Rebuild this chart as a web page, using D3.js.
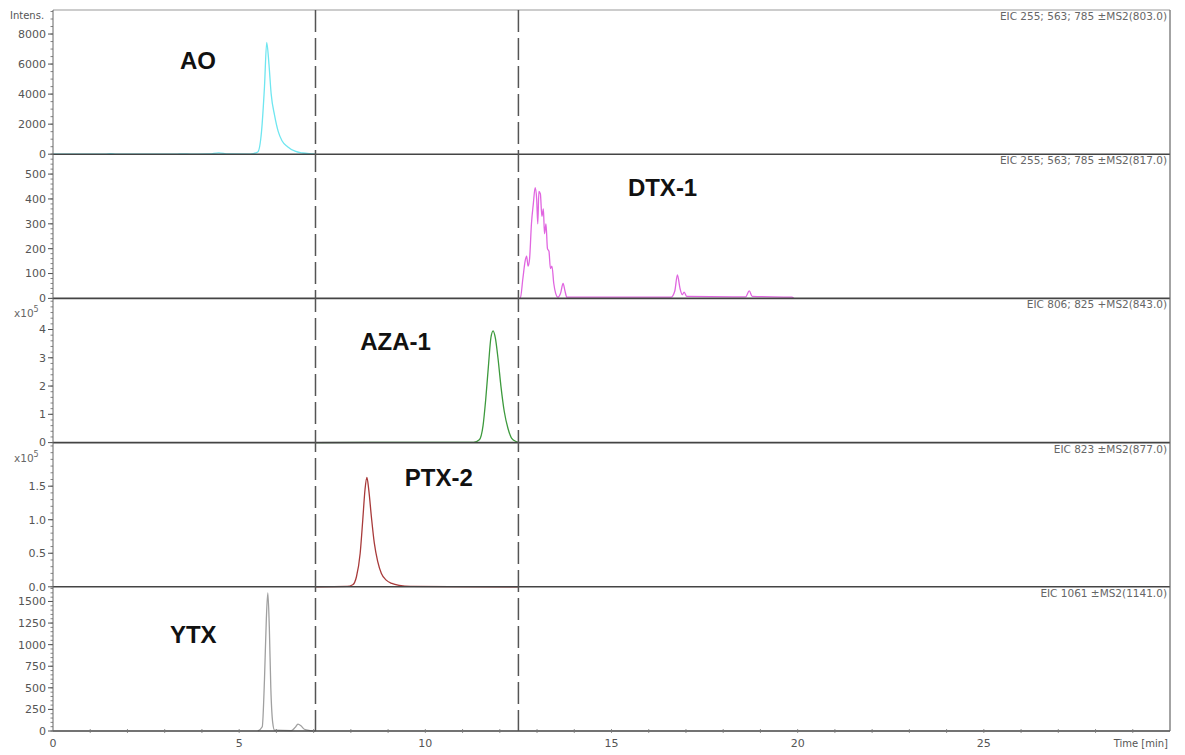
<!DOCTYPE html>
<html>
<head>
<meta charset="utf-8">
<script src="https://cdn.jsdelivr.net/npm/d3@7"></script>
<style>
  html, body { margin: 0; padding: 0; background: #fff; }
  svg { display: block; font-family: "DejaVu Sans", sans-serif; }
  .name { font-family: "Liberation Sans", Arial, sans-serif; }
</style>
</head>
<body>
<svg id="chart" width="1185" height="755"></svg>
<script>
// Extracted ion chromatograms, retention time (min) vs intensity
const aoTrace = [[0,0],[1.4,0],[1.55,30],[1.7,0],[3.3,0],[3.5,25],[3.7,10],[4.2,20],[4.45,90],[4.7,20],[5.3,10],[5.5,150],[5.6,1500],[5.68,4500],[5.74,7450],[5.8,6000],[5.86,4000],[5.95,2600],[6.05,1500],[6.15,900],[6.3,500],[6.5,200],[6.7,80],[6.95,20],[7.05,0]];
const dtxTrace = [[12.5,0],[12.55,0],[12.62,80],[12.68,150],[12.72,170],[12.76,130],[12.8,160],[12.85,300],[12.9,380],[12.95,445],[12.99,400],[13.02,300],[13.05,430],[13.09,420],[13.13,330],[13.17,360],[13.2,260],[13.24,300],[13.28,200],[13.32,190],[13.36,120],[13.4,130],[13.45,60],[13.5,20],[13.56,5],[13.63,20],[13.7,60],[13.75,30],[13.8,5],[14.5,5],[16.6,5],[16.7,30],[16.77,95],[16.84,40],[16.9,15],[16.95,25],[17.02,8],[18.6,6],[18.7,30],[18.78,8],[19.85,5],[19.9,0]];
const azaTrace = [[7.05,0],[8.5,0.01],[11.3,0.01],[11.45,0.1],[11.55,0.6],[11.62,1.5],[11.7,2.8],[11.76,3.7],[11.82,3.95],[11.88,3.7],[11.95,3.0],[12.03,2.0],[12.12,1.1],[12.22,0.5],[12.32,0.15],[12.45,0.03],[12.5,0]];
const ptxTrace = [[7.05,0],[7.9,0.005],[8.05,0.03],[8.15,0.15],[8.25,0.5],[8.32,1.0],[8.38,1.45],[8.43,1.63],[8.48,1.45],[8.55,1.05],[8.63,0.65],[8.72,0.38],[8.82,0.2],[8.95,0.1],[9.1,0.05],[9.3,0.02],[9.6,0.005],[12.5,0]];
const ytxTrace = [[5.5,0],[5.62,50],[5.68,600],[5.73,1300],[5.77,1600],[5.81,1200],[5.85,500],[5.9,100],[5.95,10],[6.4,5],[6.5,40],[6.58,80],[6.66,60],[6.75,20],[6.9,5],[7.05,0]];

const compoundNames = ["AO", "DTX-1", "AZA-1", "PTX-2", "YTX"];
const traceColors = ["#6fe6f0", "#e066e0", "#3d9a3d", "#a83a3a", "#a0a0a0"];
const eicLabels = ["EIC 255; 563; 785 \u00B1MS2(803.0)", "EIC 255; 563; 785 \u00B1MS2(817.0)", "EIC 806; 825 +MS2(843.0)", "EIC 823 \u00B1MS2(877.0)", "EIC 1061 \u00B1MS2(1141.0)"];
const yMax = [9600, 580, 5.1, 2.15, 1670];
const yMajorTicks = [[0,2000,4000,6000,8000],[0,100,200,300,400,500],[0,1,2,3,4],[0,0.5,1.0,1.5],[0,250,500,750,1000,1250,1500]];
const yMinorStep = [500, 20, 0.2, 0.1, 50];
const yTickFormat = [d3.format("d"), d3.format("d"), d3.format("d"), d3.format(".1f"), d3.format("d")];
const yExponent = [null, null, "5", "5", null];
const xTicks = [0, 5, 10, 15, 20, 25];
const windowLines = [7.05, 12.5];

const traces = [aoTrace, dtxTrace, azaTrace, ptxTrace, ytxTrace];

const svg = d3.select("#chart");
const plotLeft = 53, plotRight = 1170, plotTop = 10, plotBottom = 731;
const panelH = (plotBottom - plotTop) / 5;

const x = d3.scaleLinear().domain([0, 30]).range([plotLeft, plotRight]);

// compound name anchors, in (time, intensity) of each panel
const nameAnchors = [[3.41, 5700], [15.44, 411], [8.25, 3.29], [9.45, 1.51], [3.14, 1020]];

traces.forEach((trace, i) => {
  const y0 = plotTop + i * panelH;
  const y1 = y0 + panelH;
  const y = d3.scaleLinear().domain([0, yMax[i]]).range([y1, y0]);
  const g = svg.append("g");

  // minor ticks
  const minor = d3.range(0, yMax[i] + 1e-9, yMinorStep[i]);
  g.selectAll(".minor").data(minor).join("line")
    .attr("x1", plotLeft - 2.5).attr("x2", plotLeft)
    .attr("y1", d => y(d)).attr("y2", d => y(d))
    .attr("stroke", "#666").attr("stroke-width", 0.8);

  // major ticks and labels
  const majors = g.selectAll(".major").data(yMajorTicks[i]).join("g")
    .attr("transform", d => `translate(0,${y(d)})`);
  majors.append("line").attr("x1", plotLeft - 5).attr("x2", plotLeft)
    .attr("stroke", "#555").attr("stroke-width", 1);
  majors.append("text")
    .attr("x", plotLeft - 7).attr("dy", "0.35em")
    .attr("text-anchor", "end").attr("font-size", 11).attr("fill", "#555")
    .text(d => yTickFormat[i](d));

  // scale exponent under the panel's top edge
  if (yExponent[i]) {
    const t = g.append("text").attr("x", 14).attr("y", y0 + 19)
      .attr("font-size", 10.5).attr("fill", "#666");
    t.append("tspan").text("x10");
    t.append("tspan").attr("dy", -5).attr("font-size", 8).text(yExponent[i]);
  }

  // trace
  const line = d3.line().x(d => x(d[0])).y(d => y(d[1])).curve(d3.curveMonotoneX);
  g.append("path").datum(trace).attr("d", line)
    .attr("fill", "none").attr("stroke", traceColors[i]).attr("stroke-width", 1.3);

  // compound name
  g.append("text").attr("class", "name")
    .attr("x", x(nameAnchors[i][0])).attr("y", y(nameAnchors[i][1]))
    .attr("font-size", 24).attr("font-weight", "bold").attr("fill", "#111")
    .text(compoundNames[i]);

  // EIC description
  g.append("text").attr("x", plotRight - 3).attr("y", y0 + 10)
    .attr("text-anchor", "end").attr("font-size", 10.5).attr("fill", "#666")
    .text(eicLabels[i]);

  // panel baseline separator
  g.append("line").attr("x1", plotLeft).attr("x2", plotRight).attr("y1", y1).attr("y2", y1)
    .attr("stroke", "#444").attr("stroke-width", 1.6);
});

// frame
svg.append("line").attr("x1", plotLeft).attr("x2", plotRight).attr("y1", plotTop).attr("y2", plotTop)
  .attr("stroke", "#999").attr("stroke-width", 1);
svg.append("line").attr("x1", plotLeft).attr("x2", plotLeft).attr("y1", plotTop).attr("y2", plotBottom)
  .attr("stroke", "#666").attr("stroke-width", 1);
svg.append("line").attr("x1", plotRight).attr("x2", plotRight).attr("y1", plotTop).attr("y2", plotBottom)
  .attr("stroke", "#666").attr("stroke-width", 1.2);

// retention-window markers
svg.selectAll(".window").data(windowLines).join("line")
  .attr("x1", d => x(d)).attr("x2", d => x(d))
  .attr("y1", plotTop).attr("y2", plotBottom)
  .attr("stroke", "#555").attr("stroke-width", 1.5)
  .attr("stroke-dasharray", "22,6");

// time axis
const xMinor = d3.range(1, 30, 1);
svg.selectAll(".xminor").data(xMinor).join("line")
  .attr("x1", d => x(d)).attr("x2", d => x(d))
  .attr("y1", plotBottom - 2).attr("y2", plotBottom + 2)
  .attr("stroke", "#777").attr("stroke-width", 0.8);
svg.selectAll(".xlab").data(xTicks).join("text")
  .attr("x", d => x(d)).attr("y", plotBottom + 16)
  .attr("text-anchor", "middle").attr("font-size", 11).attr("fill", "#555")
  .text(d => d);
svg.append("text").attr("x", plotRight - 2).attr("y", plotBottom + 16)
  .attr("text-anchor", "end").attr("font-size", 10).attr("fill", "#555")
  .text("Time [min]");
svg.append("text").attr("x", 10).attr("y", 19)
  .attr("font-size", 10).attr("fill", "#555").text("Intens.");
</script>
</body>
</html>
